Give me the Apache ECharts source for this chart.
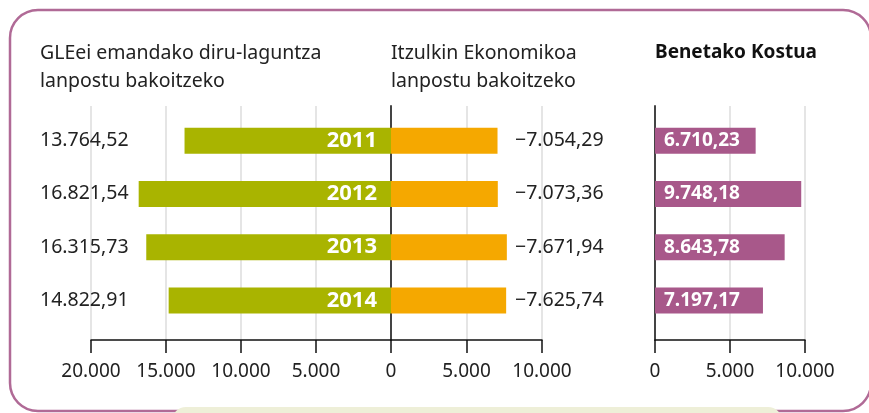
<!DOCTYPE html>
<html>
<head>
<meta charset="utf-8">
<script src="https://cdn.jsdelivr.net/npm/echarts@6/dist/echarts.min.js"></script>
<style>
  html, body { margin: 0; padding: 0; background: #fff; }
  #main { width: 869px; height: 413px; }
</style>
</head>
<body>
<div id="main"></div>
<script>
var years = ['2011', '2012', '2013', '2014'];
// GLEei emandako diru-laguntza lanpostu bakoitzeko
var subsidy = [13764.52, 16821.54, 16315.73, 14822.91];
// Itzulkin Ekonomikoa lanpostu bakoitzeko
var returns = [-7054.29, -7073.36, -7671.94, -7625.74];
// Benetako Kostua
var realCost = [6710.23, 9748.18, 8643.78, 7197.17];

var FONT = '"Noto Sans", sans-serif';
var TXT = '#222';

// 13764.52 -> "13.764,52"
function fmt(v, dec) {
  var neg = v < 0;
  var s = Math.abs(v).toFixed(dec);
  var parts = s.split('.');
  var ip = parts[0].replace(/\B(?=(\d{3})+(?!\d))/g, '.');
  return (neg ? '\u2212' : '') + ip + (parts[1] ? ',' + parts[1] : '');
}

var myChart = echarts.init(document.getElementById('main'));

// frame grids: gridlines, axis, ticks  /  bar grids: the bars themselves
var panels = [
  { left: 91, width: 300, min: 0, max: 20000, inverse: true },
  { left: 391, width: 151, min: -10000, max: 0, inverse: true },
  { left: 655, width: 150, min: 0, max: 10000, inverse: false }
];

var grids = [], xAxes = [], yAxes = [], series = [];

panels.forEach(function (p, i) {
  // frame grid (index i)
  grids.push({ left: p.left, width: p.width, top: 106, height: 234 });
  xAxes.push({
    type: 'value', gridIndex: i, min: p.min, max: p.max, interval: 5000, inverse: p.inverse,
    axisLine: { show: true, lineStyle: { color: '#111', width: 1.5 } },
    axisTick: { show: true, length: 13, lineStyle: { color: '#111', width: 1.5 } },
    axisLabel: {
      color: TXT, fontSize: 19, fontFamily: FONT, margin: 22,
      showMinLabel: true, showMaxLabel: i !== 1,
      formatter: function (v) { return fmt(Math.abs(v), 0); }
    },
    splitLine: { show: true, showMinLine: true, showMaxLine: true,
      lineStyle: { color: '#dcdcdc', width: 1.5 } }
  });
  yAxes.push({
    type: 'category', gridIndex: i, data: years,
    position: 'left',
    axisLine: { show: true, lineStyle: i > 0 ? { color: '#444', width: 2 } : { color: '#dcdcdc', width: 1.5 } },
    axisTick: { show: false }, axisLabel: { show: false }, splitLine: { show: false }
  });
  series.push({ type: 'bar', xAxisIndex: i, yAxisIndex: i, data: [], silent: true });
});

panels.forEach(function (p, i) {
  var gi = i + 3;
  grids.push({ left: p.left, width: p.width, top: 114, height: 213 });
  xAxes.push({
    type: 'value', gridIndex: gi, min: p.min, max: p.max, inverse: p.inverse, show: false
  });
});

// left bar grid: value labels on the left
yAxes.push({
  type: 'category', gridIndex: 3, data: years, inverse: true, position: 'left',
  axisLine: { show: false }, axisTick: { show: false },
  axisLabel: {
    align: 'left', margin: 51, color: TXT, fontSize: 19.5, fontFamily: FONT,
    formatter: function (v, idx) { return fmt(subsidy[idx], 2); }
  }
});
// middle bar grid: value labels on the right
yAxes.push({
  type: 'category', gridIndex: 4, data: years, inverse: true, position: 'right',
  axisLine: { show: false }, axisTick: { show: false },
  axisLabel: {
    align: 'left', margin: -27, color: TXT, fontSize: 19.5, fontFamily: FONT,
    formatter: function (v, idx) { return fmt(returns[idx], 2); }
  }
});
// right bar grid
yAxes.push({
  type: 'category', gridIndex: 5, data: years, inverse: true,
  axisLine: { show: false }, axisTick: { show: false }, axisLabel: { show: false }
});

series.push({
  type: 'bar', xAxisIndex: 3, yAxisIndex: 3, data: subsidy, barWidth: 26,
  itemStyle: { color: '#a9b400' },
  label: {
    show: true, position: 'insideRight', distance: 14, color: '#fff',
    fontSize: 22, fontWeight: 'bold', fontFamily: FONT,
    formatter: function (p) { return p.name; }
  }
});
series.push({
  type: 'bar', xAxisIndex: 4, yAxisIndex: 4, data: returns, barWidth: 26,
  itemStyle: { color: '#f5a800' }
});
series.push({
  type: 'bar', xAxisIndex: 5, yAxisIndex: 5, data: realCost, barWidth: 26,
  itemStyle: { color: '#a8588a' },
  label: {
    show: true, position: 'insideLeft', distance: 9, color: '#fff',
    fontSize: 19, fontWeight: 'bold', fontFamily: FONT,
    formatter: function (p) { return fmt(p.value, 2); }
  }
});

var option = {
  backgroundColor: '#fff',
  animation: false,
  title: [
    { text: 'GLEei emandako diru-laguntza\nlanpostu bakoitzeko', left: 40, top: 39, padding: 0,
      textStyle: { color: TXT, fontSize: 19.5, fontWeight: 'normal', fontFamily: FONT, lineHeight: 28 } },
    { text: 'Itzulkin Ekonomikoa\nlanpostu bakoitzeko', left: 391, top: 39, padding: 0,
      textStyle: { color: TXT, fontSize: 19.5, fontWeight: 'normal', fontFamily: FONT, lineHeight: 28 } },
    { text: 'Benetako Kostua', left: 655, top: 39, padding: 0,
      textStyle: { color: '#111', fontSize: 19, fontWeight: 'bold', fontFamily: FONT, lineHeight: 28 } }
  ],
  graphic: [
    { type: 'rect', z: -5, shape: { x: 10, y: 10, width: 861, height: 401, r: 28 },
      style: { fill: 'none', stroke: '#b06a96', lineWidth: 2.5 } },
    { type: 'rect', z: -4, shape: { x: 172, y: 407, width: 610, height: 30, r: 14 },
      style: { fill: '#eeefd8' } }
  ],
  grid: grids,
  xAxis: xAxes,
  yAxis: yAxes,
  series: series
};

myChart.setOption(option);
</script>
</body>
</html>
